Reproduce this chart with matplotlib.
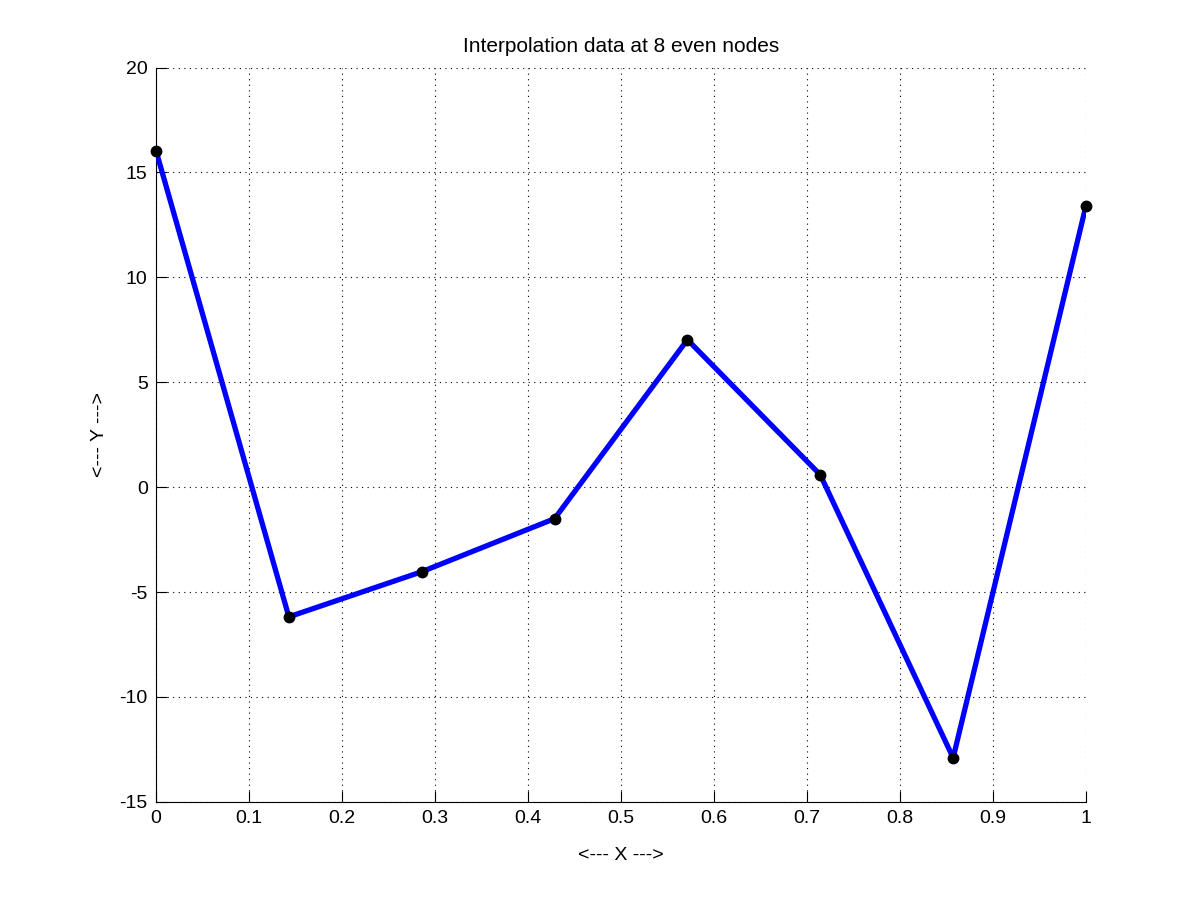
import matplotlib
matplotlib.use("Agg")
import matplotlib.pyplot as plt

# interpolation nodes and values
x_nodes = [0.0, 0.142857, 0.285714, 0.428571, 0.571429, 0.714286, 0.857143, 1.0]
y_vals = [16.04, -6.18, -4.03, -1.50, 7.03, 0.59, -12.90, 13.42]

x_ticks = [0, 0.1, 0.2, 0.3, 0.4, 0.5, 0.6, 0.7, 0.8, 0.9, 1]
x_ticklabels = ['0', '0.1', '0.2', '0.3', '0.4', '0.5', '0.6', '0.7', '0.8', '0.9', '1']
y_ticks = [-15, -10, -5, 0, 5, 10, 15, 20]
y_ticklabels = ['-15', '-10', '-5', '0', '5', '10', '15', '20']

plt.rcParams['font.family'] = ['Liberation Sans', 'DejaVu Sans']

fig = plt.figure(figsize=(12, 9.01), dpi=100)
ax = fig.add_axes([0.13, 0.11, 0.775, 0.815])

ax.plot(x_nodes, y_vals, color='#0000ff', linewidth=3.8, zorder=3)
ax.plot(x_nodes, y_vals, 'o', color='black', markersize=7.5, zorder=4, clip_on=False)

ax.set_xlim(0, 1)
ax.set_ylim(-15, 20)
ax.set_xticks(x_ticks)
ax.set_xticklabels(x_ticklabels)
ax.set_yticks(y_ticks)
ax.set_yticklabels(y_ticklabels)

# box off: only left and bottom axis lines
ax.spines['top'].set_visible(False)
ax.spines['right'].set_visible(False)
ax.grid(True, linestyle=(0, (1, 4)), color='black', linewidth=0.8)
ax.tick_params(direction='in', length=8, width=0.8, labelsize=14, pad=6)
for s in ax.spines.values():
    s.set_linewidth(0.8)

ax.set_title('Interpolation data at 8 even nodes', fontsize=15, pad=11)
ax.set_xlabel('<--- X --->', fontsize=14, labelpad=14)
ax.set_ylabel('<--- Y --->', fontsize=14, labelpad=8)

fig.savefig('out.png', dpi=100)
